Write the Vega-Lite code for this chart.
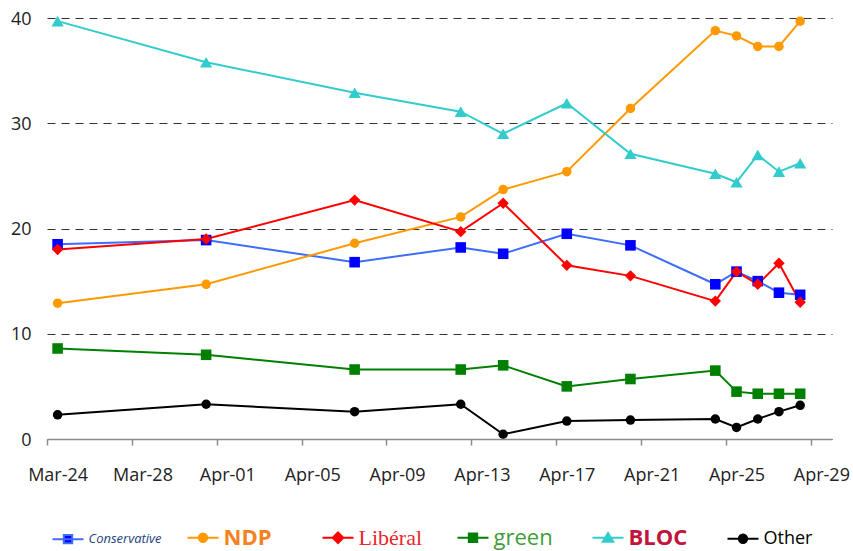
{
  "$schema": "https://vega.github.io/schema/vega-lite/v6.json",
  "width": 785,
  "height": 421,
  "autosize": {"type": "none"},
  "padding": {"left": 47, "top": 18, "right": 21, "bottom": 112},
  "background": "white",
  "config": {"view": {"stroke": null}, "font": "Open Sans"},
  "data": {
    "values": [
      {"party": "Conservative", "date": "2011-03-24T00:00:00", "v": 18.5},
      {"party": "Conservative", "date": "2011-03-31T00:00:00", "v": 18.9},
      {"party": "Conservative", "date": "2011-04-07T00:00:00", "v": 16.8},
      {"party": "Conservative", "date": "2011-04-12T00:00:00", "v": 18.2},
      {"party": "Conservative", "date": "2011-04-14T00:00:00", "v": 17.6},
      {"party": "Conservative", "date": "2011-04-17T00:00:00", "v": 19.5},
      {"party": "Conservative", "date": "2011-04-20T00:00:00", "v": 18.4},
      {"party": "Conservative", "date": "2011-04-24T00:00:00", "v": 14.7},
      {"party": "Conservative", "date": "2011-04-25T00:00:00", "v": 15.9},
      {"party": "Conservative", "date": "2011-04-26T00:00:00", "v": 15.0},
      {"party": "Conservative", "date": "2011-04-27T00:00:00", "v": 13.9},
      {"party": "Conservative", "date": "2011-04-28T00:00:00", "v": 13.7},
      {"party": "NDP", "date": "2011-03-24T00:00:00", "v": 12.9},
      {"party": "NDP", "date": "2011-03-31T00:00:00", "v": 14.7},
      {"party": "NDP", "date": "2011-04-07T00:00:00", "v": 18.6},
      {"party": "NDP", "date": "2011-04-12T00:00:00", "v": 21.1},
      {"party": "NDP", "date": "2011-04-14T00:00:00", "v": 23.7},
      {"party": "NDP", "date": "2011-04-17T00:00:00", "v": 25.4},
      {"party": "NDP", "date": "2011-04-20T00:00:00", "v": 31.4},
      {"party": "NDP", "date": "2011-04-24T00:00:00", "v": 38.8},
      {"party": "NDP", "date": "2011-04-25T00:00:00", "v": 38.3},
      {"party": "NDP", "date": "2011-04-26T00:00:00", "v": 37.3},
      {"party": "NDP", "date": "2011-04-27T00:00:00", "v": 37.3},
      {"party": "NDP", "date": "2011-04-28T00:00:00", "v": 39.7},
      {"party": "Libéral", "date": "2011-03-24T00:00:00", "v": 18.0},
      {"party": "Libéral", "date": "2011-03-31T00:00:00", "v": 19.0},
      {"party": "Libéral", "date": "2011-04-07T00:00:00", "v": 22.7},
      {"party": "Libéral", "date": "2011-04-12T00:00:00", "v": 19.7},
      {"party": "Libéral", "date": "2011-04-14T00:00:00", "v": 22.4},
      {"party": "Libéral", "date": "2011-04-17T00:00:00", "v": 16.5},
      {"party": "Libéral", "date": "2011-04-20T00:00:00", "v": 15.5},
      {"party": "Libéral", "date": "2011-04-24T00:00:00", "v": 13.1},
      {"party": "Libéral", "date": "2011-04-25T00:00:00", "v": 15.9},
      {"party": "Libéral", "date": "2011-04-26T00:00:00", "v": 14.7},
      {"party": "Libéral", "date": "2011-04-27T00:00:00", "v": 16.7},
      {"party": "Libéral", "date": "2011-04-28T00:00:00", "v": 13.0},
      {"party": "green", "date": "2011-03-24T00:00:00", "v": 8.6},
      {"party": "green", "date": "2011-03-31T00:00:00", "v": 8.0},
      {"party": "green", "date": "2011-04-07T00:00:00", "v": 6.6},
      {"party": "green", "date": "2011-04-12T00:00:00", "v": 6.6},
      {"party": "green", "date": "2011-04-14T00:00:00", "v": 7.0},
      {"party": "green", "date": "2011-04-17T00:00:00", "v": 5.0},
      {"party": "green", "date": "2011-04-20T00:00:00", "v": 5.7},
      {"party": "green", "date": "2011-04-24T00:00:00", "v": 6.5},
      {"party": "green", "date": "2011-04-25T00:00:00", "v": 4.5},
      {"party": "green", "date": "2011-04-26T00:00:00", "v": 4.3},
      {"party": "green", "date": "2011-04-27T00:00:00", "v": 4.3},
      {"party": "green", "date": "2011-04-28T00:00:00", "v": 4.3},
      {"party": "BLOC", "date": "2011-03-24T00:00:00", "v": 39.7},
      {"party": "BLOC", "date": "2011-03-31T00:00:00", "v": 35.8},
      {"party": "BLOC", "date": "2011-04-07T00:00:00", "v": 32.9},
      {"party": "BLOC", "date": "2011-04-12T00:00:00", "v": 31.1},
      {"party": "BLOC", "date": "2011-04-14T00:00:00", "v": 29.0},
      {"party": "BLOC", "date": "2011-04-17T00:00:00", "v": 31.9},
      {"party": "BLOC", "date": "2011-04-20T00:00:00", "v": 27.1},
      {"party": "BLOC", "date": "2011-04-24T00:00:00", "v": 25.2},
      {"party": "BLOC", "date": "2011-04-25T00:00:00", "v": 24.4},
      {"party": "BLOC", "date": "2011-04-26T00:00:00", "v": 27.0},
      {"party": "BLOC", "date": "2011-04-27T00:00:00", "v": 25.4},
      {"party": "BLOC", "date": "2011-04-28T00:00:00", "v": 26.2},
      {"party": "Other", "date": "2011-03-24T00:00:00", "v": 2.3},
      {"party": "Other", "date": "2011-03-31T00:00:00", "v": 3.3},
      {"party": "Other", "date": "2011-04-07T00:00:00", "v": 2.6},
      {"party": "Other", "date": "2011-04-12T00:00:00", "v": 3.3},
      {"party": "Other", "date": "2011-04-14T00:00:00", "v": 0.45},
      {"party": "Other", "date": "2011-04-17T00:00:00", "v": 1.7},
      {"party": "Other", "date": "2011-04-20T00:00:00", "v": 1.8},
      {"party": "Other", "date": "2011-04-24T00:00:00", "v": 1.9},
      {"party": "Other", "date": "2011-04-25T00:00:00", "v": 1.1},
      {"party": "Other", "date": "2011-04-26T00:00:00", "v": 1.9},
      {"party": "Other", "date": "2011-04-27T00:00:00", "v": 2.6},
      {"party": "Other", "date": "2011-04-28T00:00:00", "v": 3.2}
    ]
  },
  "encoding": {
    "x": {
      "field": "date",
      "type": "temporal",
      "scale": {
        "domain": [
          {"year": 2011, "month": 3, "date": 23, "hours": 12},
          {"year": 2011, "month": 4, "date": 29, "hours": 12}
        ],
        "nice": false
      },
      "axis": {
        "title": null,
        "values": [
          {"year": 2011, "month": 3, "date": 24},
          {"year": 2011, "month": 3, "date": 28},
          {"year": 2011, "month": 4, "date": 1},
          {"year": 2011, "month": 4, "date": 5},
          {"year": 2011, "month": 4, "date": 9},
          {"year": 2011, "month": 4, "date": 13},
          {"year": 2011, "month": 4, "date": 17},
          {"year": 2011, "month": 4, "date": 21},
          {"year": 2011, "month": 4, "date": 25},
          {"year": 2011, "month": 4, "date": 29}
        ],
        "format": "%b-%d",
        "grid": false,
        "tickOffset": -10.6,
        "labelOffset": 10.6,
        "tickSize": 6,
        "tickColor": "#8c8c8c",
        "tickWidth": 1.5,
        "domainColor": "#8c8c8c",
        "domainWidth": 1.5,
        "labelPadding": 21,
        "labelFont": "Open Sans",
        "labelFontSize": 18,
        "labelColor": "#222222",
        "labelFlush": false,
        "labelOverlap": false,
        "zindex": 1
      }
    },
    "y": {
      "field": "v",
      "type": "quantitative",
      "scale": {"domain": [0, 40], "nice": false},
      "axis": {
        "title": null,
        "values": [0, 10, 20, 30, 40],
        "grid": true,
        "gridDash": [8, 6],
        "gridColor": "#333333",
        "gridWidth": 1,
        "domain": false,
        "ticks": false,
        "tickSize": 0,
        "labelPadding": 16,
        "labelFont": "Open Sans",
        "labelFontSize": 18,
        "labelColor": "#222222",
        "labelOffset": 1
      }
    }
  },
  "layer": [
    {
      "mark": {"type": "line", "strokeWidth": 2},
      "encoding": {
        "detail": {"field": "party", "type": "nominal"},
        "stroke": {
          "field": "party",
          "type": "nominal",
          "scale": {
            "domain": ["Conservative", "NDP", "Libéral", "green", "BLOC", "Other"],
            "range": ["#3d6cff", "#ff9900", "#ff0000", "#008000", "#33cccc", "#000000"]
          },
          "legend": {
            "title": null,
            "orient": "none",
            "legendX": 4.5,
            "legendY": 503,
            "direction": "horizontal",
            "columns": 6,
            "gridAlign": "all",
            "padding": 0,
            "columnPadding": 21,
            "symbolSize": 961,
            "symbolStrokeWidth": 2,
            "symbolType": "M-1,0H1",
            "labelOffset": 4,
            "labelLimit": 300,
            "labelFont": "Open Sans",
            "labelFontSize": 18,
            "labelColor": "#000000",
            "encode": {
              "symbols": {
                "update": {
                  "shape": {"signal": "datum.value === 'Conservative' || datum.value === 'green' ? 'M-1,0H1M-0.27,-0.27H0.27V0.27H-0.27Z' : datum.value === 'Libéral' ? 'M-1,0H1M0,-0.34L0.34,0L0,0.34L-0.34,0Z' : datum.value === 'BLOC' ? 'M-1,0H1M0,-0.3L0.34,0.26L-0.34,0.26Z' : 'M-1,0H1M-0.27,0A0.27,0.27,0,1,0,0.27,0A0.27,0.27,0,1,0,-0.27,0Z'"},
                  "fill": {"signal": "datum.value === 'Conservative' ? '#0000ff' : datum.value === 'NDP' ? '#ff9900' : datum.value === 'Libéral' ? '#ff0000' : datum.value === 'green' ? '#008000' : datum.value === 'BLOC' ? '#33cccc' : '#000000'"},
                  "stroke": {"signal": "datum.value === 'Conservative' ? '#0000ff' : datum.value === 'NDP' ? '#ff9900' : datum.value === 'Libéral' ? '#ff0000' : datum.value === 'green' ? '#008000' : datum.value === 'BLOC' ? '#33cccc' : '#000000'"},
                  "strokeWidth": {"value": 2},
                  "size": {"value": 961},
                  "opacity": {"value": 1},
                  "fillOpacity": {"value": 1},
                  "strokeOpacity": {"value": 1}
                }
              },
              "labels": {
                "update": {
                  "fill": {"signal": "datum.value === 'Conservative' ? '#1d3f80' : datum.value === 'NDP' ? '#f58220' : datum.value === 'Libéral' ? '#e8262d' : datum.value === 'green' ? '#3f9d3a' : datum.value === 'BLOC' ? '#c0143c' : '#000000'"},
                  "fontSize": {"signal": "datum.value === 'Conservative' ? 13 : datum.value === 'Other' ? 18 : 22"},
                  "fontWeight": {"signal": "datum.value === 'NDP' || datum.value === 'BLOC' ? 'bold' : 'normal'"},
                  "fontStyle": {"signal": "datum.value === 'Conservative' ? 'italic' : 'normal'"},
                  "font": {"signal": "datum.value === 'Libéral' ? 'Liberation Serif' : 'Open Sans'"}
                }
              }
            }
          }
        }
      }
    },
    {
      "transform": [{"filter": {"field": "party", "oneOf": ["Conservative", "green"]}}],
      "mark": {"type": "point", "filled": true, "opacity": 1, "strokeWidth": 0, "shape": "square", "size": 112},
      "encoding": {
        "fill": {
          "field": "party",
          "type": "nominal",
          "scale": {
            "domain": ["Conservative", "NDP", "Libéral", "green", "BLOC", "Other"],
            "range": ["#0000ff", "#ff9900", "#ff0000", "#008000", "#33cccc", "#000000"]
          }
        }
      }
    },
    {
      "transform": [{"filter": {"field": "party", "oneOf": ["NDP", "Other"]}}],
      "mark": {"type": "point", "filled": true, "opacity": 1, "strokeWidth": 0, "shape": "circle", "size": 90},
      "encoding": {
        "fill": {"field": "party", "type": "nominal"}
      }
    },
    {
      "transform": [{"filter": {"field": "party", "equal": "Libéral"}}],
      "mark": {"type": "point", "filled": true, "opacity": 1, "strokeWidth": 0, "shape": "diamond", "size": 130},
      "encoding": {
        "fill": {"field": "party", "type": "nominal"}
      }
    },
    {
      "transform": [{"filter": {"field": "party", "equal": "BLOC"}}],
      "mark": {"type": "point", "filled": true, "opacity": 1, "strokeWidth": 0, "shape": "triangle-up", "size": 150},
      "encoding": {
        "fill": {"field": "party", "type": "nominal"}
      }
    }
  ]
}
